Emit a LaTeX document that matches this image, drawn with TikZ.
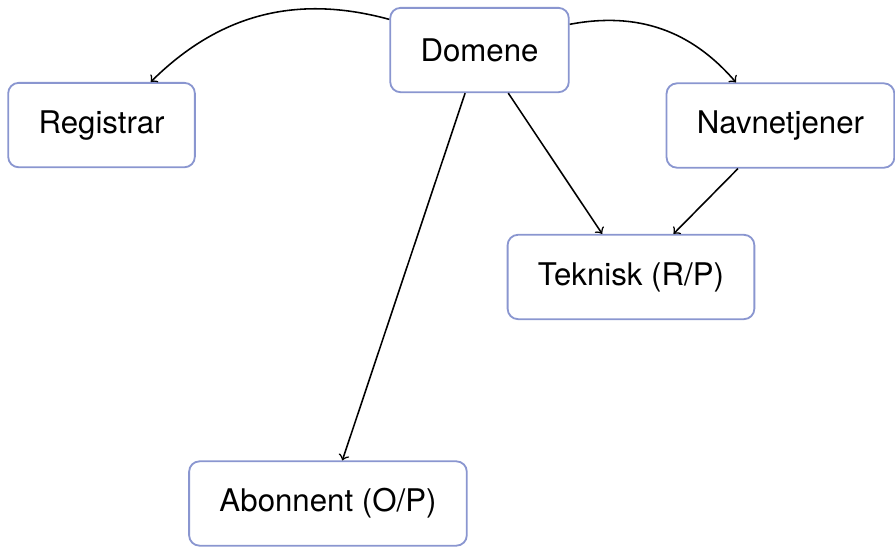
\documentclass[tikz,border=0pt]{standalone}
\usepackage{fontspec}
\setmainfont{TeX Gyre Heros}
\usepackage{tikz}
\definecolor{boksfarge}{RGB}{138,150,208}

\begin{document}
\begin{tikzpicture}[scale=1,
  boks/.style={draw=boksfarge, line width=0.7pt, rounded corners=4pt,
    minimum height=1.14cm, inner xsep=0.41cm,
    font=\fontsize{12pt}{14pt}\selectfont},
  pil/.style={->, line width=0.6pt}]
%\draw[help lines]
%     (0,0) grid (12,-7);
\useasboundingbox (0,0) rectangle (12.095,-7.405);
\node[boks] (domene) at (6.48,-0.676) {Domene};
\node[boks] (registrar) at (1.372,-1.69) {Registrar};
\node[boks] (navnetjener) at (10.547,-1.696) {Navnetjener};
\node[boks] (teknisk) at (8.527,-3.743) {Teknisk (R/P)};
\node[boks] (abonnent) at (4.432,-6.804) {Abonnent (O/P)};
\draw[pil] (domene) to[bend right=30] (registrar);
\draw[pil] (domene) to[bend left=30] (navnetjener);
\draw[pil] (domene) -- (teknisk);
\draw[pil] (domene) -- (abonnent);
\draw[pil] (navnetjener) -- (teknisk);
\end{tikzpicture}
\end{document}
